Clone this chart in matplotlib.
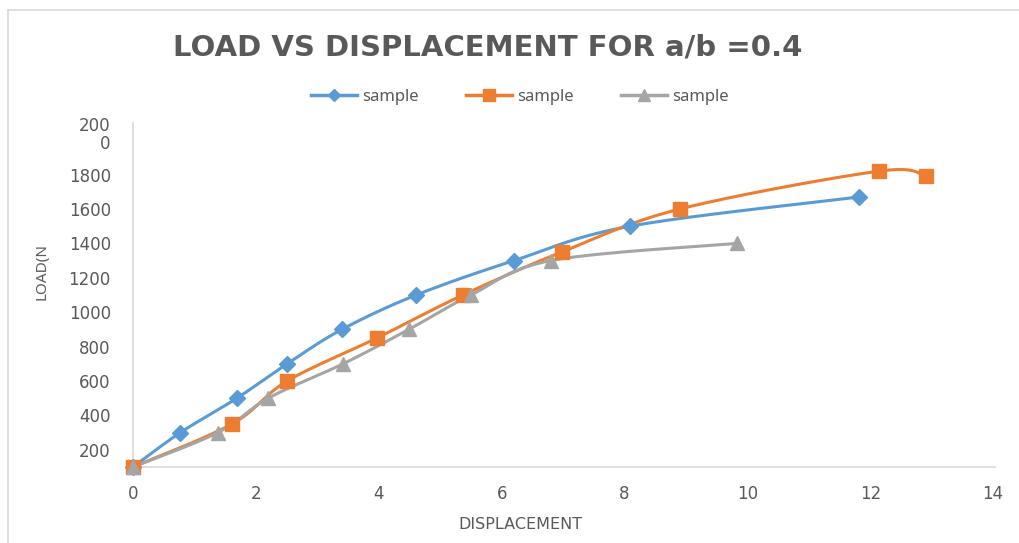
import numpy as np
import matplotlib
matplotlib.use("Agg")
import matplotlib.pyplot as plt
from matplotlib.lines import Line2D
from matplotlib.transforms import ScaledTranslation

# data
x_blue = [0, 0.77, 1.69, 2.51, 3.40, 4.61, 6.20, 8.09, 11.82]
y_blue = [100, 300, 500, 700, 900, 1100, 1300, 1500, 1670]
x_orange = [0, 1.61, 2.51, 3.97, 5.37, 6.98, 8.90, 12.14, 12.91]
y_orange = [100, 350, 600, 850, 1100, 1350, 1600, 1820, 1790]
x_gray = [0, 1.38, 2.20, 3.42, 4.49, 5.50, 6.80, 9.83]
y_gray = [100, 300, 500, 700, 900, 1100, 1300, 1400]
labels = ["sample", "sample", "sample"]
yticks = [200, 400, 600, 800, 1000, 1200, 1400, 1600, 1800, 2000]
ytick_labels = ["200", "400", "600", "800", "1000", "1200", "1400", "1600", "1800", "200\n0"]

BLUE = "#5B9BD5"
ORANGE = "#ED7D31"
GRAY = "#A5A5A5"
TXT = "#595959"


def smooth(x, y, n=30):
    # Catmull-Rom style smoothing, like Excel's "smoothed line"
    x = np.asarray(x, float)
    y = np.asarray(y, float)
    px = np.concatenate([[x[0]], x, [x[-1]]])
    py = np.concatenate([[y[0]], y, [y[-1]]])
    xs, ys = [], []
    t = np.linspace(0, 1, n)
    for i in range(1, len(px) - 2):
        p0, p1, p2, p3 = px[i - 1], px[i], px[i + 1], px[i + 2]
        q0, q1, q2, q3 = py[i - 1], py[i], py[i + 1], py[i + 2]
        c1x, c1y = p1 + (p2 - p0) / 6, q1 + (q2 - q0) / 6
        c2x, c2y = p2 - (p3 - p1) / 6, q2 - (q3 - q1) / 6
        b = [(1 - t) ** 3, 3 * (1 - t) ** 2 * t, 3 * (1 - t) * t ** 2, t ** 3]
        xs.append(b[0] * p1 + b[1] * c1x + b[2] * c2x + b[3] * p2)
        ys.append(b[0] * q1 + b[1] * c1y + b[2] * c2y + b[3] * q2)
    return np.concatenate(xs), np.concatenate(ys)


fig = plt.figure(figsize=(10.19, 5.43), dpi=100)
ax = fig.add_axes([133 / 1019, 1 - 467 / 543, (995 - 133) / 1019, (467 - 123) / 543])

series = [
    (x_blue, y_blue, BLUE, "D", 8),
    (x_orange, y_orange, ORANGE, "s", 10),
    (x_gray, y_gray, GRAY, "^", 10),
]
for (xv, yv, c, m, ms) in series:
    sx, sy = smooth(xv, yv)
    ax.plot(sx, sy, color=c, lw=2.2, zorder=2, solid_capstyle="round")
    ax.plot(xv, yv, ls="none", marker=m, color=c, ms=ms, mec=c, zorder=3, clip_on=False)

ax.set_xlim(0, 14.03)
ax.set_ylim(100, 2100)
ax.set_xticks(range(0, 15, 2))
ax.set_yticks(yticks)
ax.set_yticklabels(ytick_labels)
for s in ["top", "right"]:
    ax.spines[s].set_visible(False)
for s in ["left", "bottom"]:
    ax.spines[s].set_color("#D9D9D9")
    ax.spines[s].set_linewidth(1.2)
ax.tick_params(length=0, colors=TXT, labelsize=12)
ax.tick_params(axis="x", pad=13)
ax.tick_params(axis="y", pad=16)
ylabs = ax.get_yticklabels()
for lab in ylabs:
    lab.set_horizontalalignment("right")
ylabs[-1].set_linespacing(1.0)
ylabs[-1].set_transform(ylabs[-1].get_transform() + ScaledTranslation(0, 0.07, fig.dpi_scale_trans))

ax.set_xlabel("DISPLACEMENT", color=TXT, fontsize=11.5)
ax.xaxis.set_label_coords(0.45, -0.145)
ax.set_ylabel("LOAD(N", color=TXT, fontsize=11, family="Noto Sans")
ax.yaxis.set_label_coords((50 - 133) / 862, 0.567)

fig.text(0.479, 0.912, "LOAD VS DISPLACEMENT FOR a/b =0.4", ha="center", va="center",
         fontsize=21, fontweight="bold", color=TXT, family="DejaVu Sans")

handles = [Line2D([], [], color=c, lw=2.5, marker=m, ms=ms * 0.8, mec=c)
           for (_, _, c, m, ms) in series]
fig.legend(handles, labels, loc="center", bbox_to_anchor=(0.510, 0.822), ncol=3,
           frameon=False, labelcolor=TXT, handlelength=2.8,
           columnspacing=2.8, handletextpad=0.3, prop={"family": "Noto Sans", "size": 12})

# chart area border (top and left edges visible)
fig.add_artist(Line2D([8 / 1019, 8 / 1019], [0, 1 - 10 / 543], color="#D9D9D9", lw=1.2))
fig.add_artist(Line2D([8 / 1019, 1], [1 - 10 / 543, 1 - 10 / 543], color="#D9D9D9", lw=1.2))

fig.savefig("out.png", dpi=100, facecolor="white")
